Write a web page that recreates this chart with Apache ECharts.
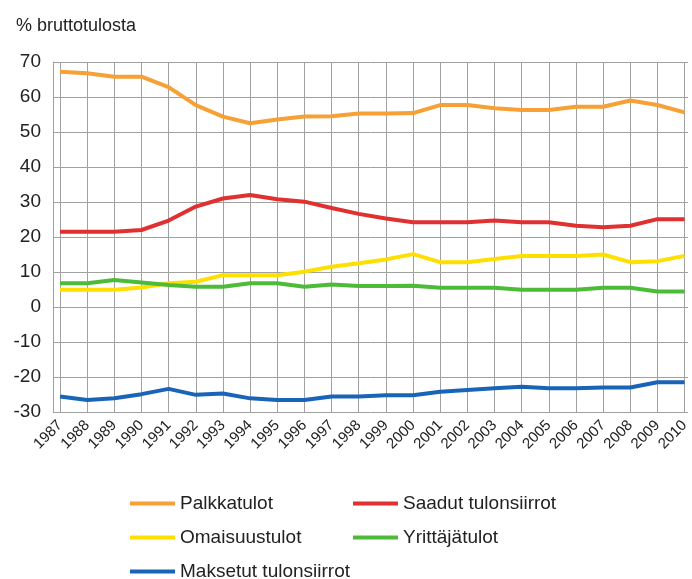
<!DOCTYPE html>
<html>
<head>
<meta charset="utf-8">
<script src="https://cdn.jsdelivr.net/npm/echarts@6/dist/echarts.min.js"></script>
<style>
  html, body { margin: 0; padding: 0; background: #fff; }
  #chart { width: 692px; height: 579px; }
</style>
</head>
<body>
<div id="chart"></div>
<script>
const years = ['1987', '1988', '1989', '1990', '1991', '1992', '1993', '1994', '1995', '1996', '1997', '1998',
  '1999', '2000', '2001', '2002', '2003', '2004', '2005', '2006', '2007', '2008', '2009', '2010']

const palkkatulot = [67.2, 66.8, 65.8, 65.8, 62.8, 57.7, 54.4, 52.5, 53.6, 54.4, 54.5, 55.3,
  55.3, 55.4, 57.7, 57.7, 56.8, 56.3, 56.3, 57.2, 57.2, 59.0, 57.7, 55.6]
const saadut = [21.5, 21.5, 21.5, 22.0, 24.7, 28.7, 31.0, 32.0, 30.8, 30.1, 28.3, 26.6,
  25.3, 24.2, 24.2, 24.2, 24.7, 24.2, 24.2, 23.2, 22.8, 23.2, 25.1, 25.1]
const omaisuus = [4.9, 4.9, 4.9, 5.6, 6.8, 7.2, 9.1, 9.1, 9.1, 10.1, 11.5, 12.5,
  13.6, 15.1, 12.8, 12.8, 13.7, 14.6, 14.6, 14.6, 15.0, 12.8, 13.1, 14.6]
const yrittaja = [6.8, 6.8, 7.7, 7.0, 6.3, 5.8, 5.8, 6.8, 6.8, 5.8, 6.4, 6.0,
  6.0, 6.1, 5.5, 5.5, 5.5, 4.9, 4.9, 4.9, 5.5, 5.5, 4.4, 4.4]
const maksetut = [-25.6, -26.6, -26.1, -24.9, -23.4, -25.1, -24.7, -26.1, -26.6, -26.6, -25.6, -25.6,
  -25.2, -25.2, -24.2, -23.7, -23.2, -22.8, -23.2, -23.2, -23.0, -23.0, -21.5, -21.5]

const seriesDefs = [
  { name: 'Palkkatulot', data: palkkatulot, color: '#f7a035' },
  { name: 'Saadut tulonsiirrot', data: saadut, color: '#e03030' },
  { name: 'Omaisuustulot', data: omaisuus, color: '#ffdf00' },
  { name: 'Yrittäjätulot', data: yrittaja, color: '#4cbb38' },
  { name: 'Maksetut tulonsiirrot', data: maksetut, color: '#1a64b8' }
]

// one legend box per entry, two columns
const legendPos = [
  { left: 130, top: 494 },
  { left: 353, top: 494 },
  { left: 130, top: 528 },
  { left: 353, top: 528 },
  { left: 130, top: 562 }
]

const font = 'Liberation Sans, Arial, sans-serif'
const gridLine = { lineStyle: { color: '#a0a0a0', width: 1 } }

const chart = echarts.init(document.getElementById('chart'))

chart.setOption({
  animation: false,
  textStyle: { fontFamily: font },
  title: {
    text: '% bruttotulosta',
    left: 11,
    top: 12,
    textStyle: { fontSize: 18, fontWeight: 'normal', color: '#222', fontFamily: font }
  },
  legend: seriesDefs.map((s, i) => ({
    data: [s.name],
    left: legendPos[i].left,
    top: legendPos[i].top,
    padding: 0,
    icon: 'rect',
    itemWidth: 45,
    itemHeight: 4,
    textStyle: { fontSize: 19, color: '#222', fontFamily: font },
    selectedMode: false
  })),
  grid: [
    { left: 60, right: 4, top: 62, bottom: 167, containLabel: false },
    { left: 53, right: 4, top: 62, bottom: 167, containLabel: false }
  ],
  xAxis: [
    {
      type: 'category',
      gridIndex: 0,
      data: years,
      boundaryGap: false,
      axisLine: { show: true, lineStyle: { color: '#a0a0a0' } },
      axisTick: { show: false },
      splitLine: { show: true, ...gridLine },
      axisLabel: {
        interval: 0,
        rotate: 45,
        margin: 11,
        fontSize: 15,
        color: '#222',
        fontFamily: font
      }
    },
    {
      type: 'value',
      gridIndex: 1,
      show: false
    }
  ],
  yAxis: [
    {
      type: 'value',
      gridIndex: 0,
      min: -30,
      max: 70,
      interval: 10,
      show: false
    },
    {
      type: 'value',
      gridIndex: 1,
      min: -30,
      max: 70,
      interval: 10,
      axisLine: { show: true, lineStyle: { color: '#a0a0a0' } },
      axisTick: { show: false },
      splitLine: { show: true, ...gridLine },
      axisLabel: { fontSize: 19, color: '#222', margin: 12, fontFamily: font }
    }
  ],
  series: seriesDefs.map(s => ({
    name: s.name,
    type: 'line',
    xAxisIndex: 0,
    yAxisIndex: 0,
    data: s.data,
    symbol: 'none',
    smooth: false,
    color: s.color,
    lineStyle: { width: 4, color: s.color }
  }))
})
</script>
</body>
</html>
